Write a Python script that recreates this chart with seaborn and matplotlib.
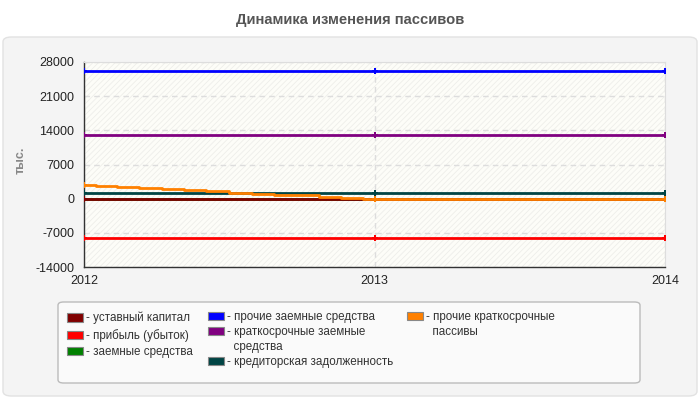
import pandas as pd
import seaborn as sns
import matplotlib.pyplot as plt
import matplotlib.patches as mpatches

# --- data ---
years = [2012, 2013, 2014]
ustavny = [0, 0, 0]
pribyl = [-8000, -8000, -8000]
zaemnye = [0, 0, 0]
prochie_zaemnye = [26200, 26200, 26200]
kratkosrochnye_zaemnye = [13000, 13000, 13000]
kreditorskaya = [1100, 1100, 1100]

# orange series is drawn as a staircase in the reference
orange_t = [2012.00, 2012.08, 2012.15, 2012.23, 2012.31, 2012.38, 2012.46,
            2012.54, 2012.62, 2012.69, 2012.77, 2012.85, 2012.92, 2013.00, 2014.00]
orange_v = [2750, 2550, 2350, 2100, 1900, 1700, 1500,
            1250, 1050, 850, 650, 400, 200, 0, 0]

names = ['уставный капитал', 'прибыль (убыток)', 'заемные средства',
         'прочие заемные средства', 'краткосрочные заемные\nсредства',
         'кредиторская задолженность', 'прочие краткосрочные\nпассивы']
colors = ['#800000', '#ff0000', '#008000', '#0000ff', '#800080', '#004444', '#ff8000']

y_ticks = [-14000, -7000, 0, 7000, 14000, 21000, 28000]

sns.set_style("white")
plt.rcParams['font.family'] = ['Liberation Sans', 'DejaVu Sans']
plt.rcParams['hatch.linewidth'] = 0.6

fig = plt.figure(figsize=(7, 4), dpi=100)
fig.patch.set_facecolor('white')

# grey rounded panel behind everything
panel = mpatches.FancyBboxPatch((3 / 700, 4 / 400), 694 / 700, 359 / 400,
                                boxstyle='round,pad=0,rounding_size=0.012',
                                transform=fig.transFigure, facecolor='#f4f4f4',
                                edgecolor='#e2e2e2', lw=1, zorder=-10)
fig.patches.append(panel)

fig.text(0.5, 1 - 20 / 400, 'Динамика изменения пассивов', ha='center', va='center',
         fontsize=10.6, fontweight='bold', color='#555555')

ax = fig.add_axes([84 / 700, 133 / 400, 581 / 700, 205 / 400])
ax.set_facecolor('#fdfdf8')
ax.add_patch(mpatches.Rectangle((0, 0), 1, 1, transform=ax.transAxes, facecolor='none',
                                edgecolor='#eeeeea', hatch='//////', lw=0, zorder=0))

series = [ustavny, pribyl, zaemnye, prochie_zaemnye, kratkosrochnye_zaemnye, kreditorskaya]
order = [2, 0, 1, 3, 4, 5]
for i in order:
    sns.lineplot(x=years, y=series[i], color=colors[i], lw=2, marker='P', ms=5,
                 mew=0, ax=ax, zorder=3)

df_or = pd.DataFrame({'t': orange_t, 'v': orange_v})
sns.lineplot(data=df_or, x='t', y='v', color=colors[6], lw=2, drawstyle='steps-mid',
             ax=ax, zorder=4)
sns.scatterplot(x=years, y=[orange_v[0], orange_v[-2], orange_v[-1]], color=colors[6],
                marker='P', s=25, linewidth=0, ax=ax, zorder=5)

ax.set_xlim(2012, 2014)
ax.set_ylim(-14000, 28000)
ax.set_xticks(years)
ax.set_xticklabels([str(y) for y in years])
ax.set_yticks(y_ticks)
ax.set_yticklabels([str(t) for t in y_ticks])
ax.tick_params(axis='both', labelsize=9, colors='#222222', length=5, width=1,
               direction='out', pad=2)
ax.tick_params(axis='x', pad=1)
ax.grid(True, color='#dddddd', linestyle=(0, (4, 3)), lw=1)
ax.set_axisbelow(True)
for s in ['top', 'right']:
    ax.spines[s].set_color('#dddddd')
for s in ['left', 'bottom']:
    ax.spines[s].set_color('#333333')
    ax.spines[s].set_linewidth(1)
ax.set_xlabel('')
ax.set_ylabel('')

fig.text(21 / 700, 1 - 160 / 400, 'тыс.', rotation=90, ha='center', va='center',
         fontsize=9, fontweight='bold', color='#888888')

# legend box
lbox = mpatches.FancyBboxPatch((58 / 700, 17 / 400), 582 / 700, 81 / 400,
                               boxstyle='round,pad=0,rounding_size=0.008',
                               transform=fig.transFigure, facecolor='#fafafa',
                               edgecolor='#bbbbbb', lw=1, zorder=-5)
fig.patches.append(lbox)


def legend_column(idx, x_px, y_px, spacing):
    hs, ls = [], []
    for i in idx:
        parts = names[i].split('\n')
        hs.append(mpatches.Patch(facecolor=colors[i], edgecolor='#888888', lw=0.8))
        ls.append('- ' + parts[0])
        # wrapped part of a label: its own row with no swatch
        for p in parts[1:]:
            hs.append(mpatches.Patch(facecolor='none', edgecolor='none'))
            ls.append('  ' + p)
    leg = fig.legend(hs, ls, loc='upper left', bbox_to_anchor=(x_px / 700, 1 - y_px / 400),
                     frameon=False, fontsize=8.4, handlelength=1.4, handleheight=0.7,
                     handletextpad=0.2, labelspacing=spacing, borderaxespad=0,
                     borderpad=0, labelcolor='#333333')
    return leg


legend_column([0, 1, 2], 67, 312, 0.38)
legend_column([3, 4, 5], 208, 311, 0.27)
legend_column([6], 407, 311, 0.27)

fig.savefig('out.png', dpi=100)
